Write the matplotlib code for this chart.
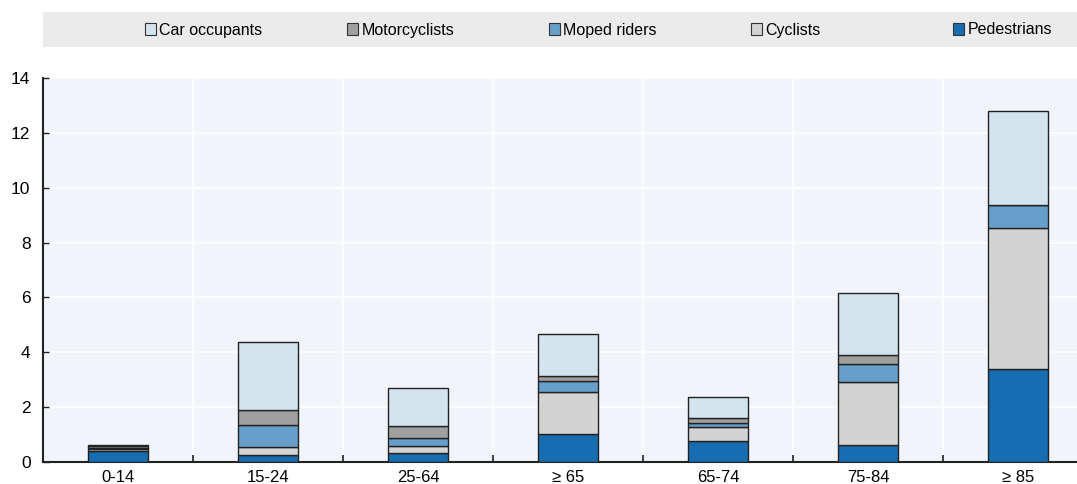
import numpy as np
import matplotlib.pyplot as plt
from matplotlib.patches import Rectangle, Patch

plt.rcParams['font.family'] = ['Liberation Sans', 'DejaVu Sans']

age_groups = ["0-14", "15-24", "25-64", "≥ 65", "65-74", "75-84", "≥ 85"]
pedestrians = [0.40, 0.25, 0.33, 1.02, 0.78, 0.63, 3.40]
cyclists = [0.06, 0.29, 0.25, 1.54, 0.48, 2.27, 5.12]
moped_riders = [0.06, 0.81, 0.30, 0.38, 0.17, 0.66, 0.85]
motorcyclists = [0.06, 0.55, 0.45, 0.21, 0.17, 0.33, 0.00]
car_occupants = [0.05, 2.48, 1.35, 1.50, 0.78, 2.28, 3.41]

series = [
    ("Pedestrians", pedestrians, "#176daf"),
    ("Cyclists", cyclists, "#d3d3d3"),
    ("Moped riders", moped_riders, "#679fcb"),
    ("Motorcyclists", motorcyclists, "#a0a0a0"),
    ("Car occupants", car_occupants, "#d3e4ef"),
]

fig = plt.figure(figsize=(10.77, 4.84), dpi=100)
ax = fig.add_axes([43 / 1077, 1 - 462 / 484, 1050 / 1077, 384 / 484])
ax.set_facecolor("#f1f5fb")

x = np.arange(len(age_groups))
bottom = np.zeros(len(age_groups))
for name, vals, col in series:
    vals = np.array(vals)
    ax.bar(x, vals, width=0.4, bottom=bottom, color=col, edgecolor="#222222",
           linewidth=1.0, label=name, zorder=3)
    bottom += vals

ax.set_xlim(-0.5, len(age_groups) - 0.5)
ax.set_ylim(0, 14)
ax.set_yticks(np.arange(0, 15, 2))
ax.set_xticks(x)
ax.set_xticklabels(age_groups)
ax.set_xticks(np.arange(0.5, len(age_groups) - 0.5, 1), minor=True)
ax.tick_params(axis="x", which="major", length=0, pad=6, labelsize=12)
ax.tick_params(axis="x", which="minor", direction="in", length=5, width=1.2, color="#222222")
ax.tick_params(axis="y", direction="in", length=4, width=1, labelsize=12.5, pad=9, color="#222222")
ax.grid(axis="y", color="white", linewidth=1.2, zorder=0)
ax.grid(axis="x", which="minor", color="white", linewidth=1.2, zorder=0)
for s in ["top", "right"]:
    ax.spines[s].set_visible(False)
for s in ["left", "bottom"]:
    ax.spines[s].set_linewidth(1.5)
    ax.spines[s].set_color("#222222")

# legend band
fig.patches.append(Rectangle((43 / 1077, 1 - 47 / 484), 1034 / 1077, 35 / 484,
                             transform=fig.transFigure, facecolor="#ebebeb",
                             edgecolor="none", zorder=0))
legend_order = ["Car occupants", "Motorcyclists", "Moped riders", "Cyclists", "Pedestrians"]
colors = {n: c for n, _, c in series}
for i, name in enumerate(legend_order):
    h = Patch(facecolor=colors[name], edgecolor="#333333", linewidth=0.8)
    fig.legend([h], [name], loc="center left",
               bbox_to_anchor=((145 + 202 * i) / 1077, 1 - 30 / 484),
               frameon=False, fontsize=11.5, handlelength=0.7, handleheight=0.7,
               handletextpad=0.2, borderpad=0, borderaxespad=0)

fig.savefig("out.png", dpi=100)
